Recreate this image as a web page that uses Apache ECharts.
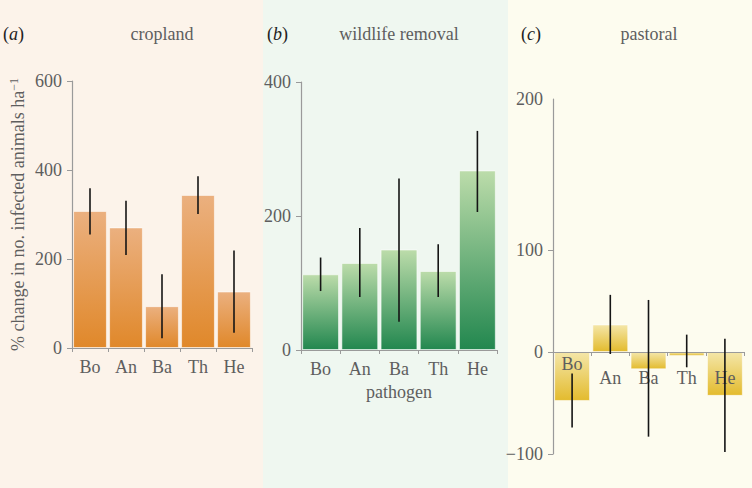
<!DOCTYPE html>
<html>
<head>
<meta charset="utf-8">
<script src="https://cdn.jsdelivr.net/npm/echarts@6/dist/echarts.min.js"></script>
<style>
  html, body { margin: 0; padding: 0; }
  #chart {
    width: 752px; height: 488px;
    background: linear-gradient(to right, #fcf3ea 0, #fcf3ea 263px, #eff7f0 263px, #eff7f0 508px, #fdfcef 508px, #fdfcef 752px);
  }
</style>
</head>
<body>
<div id="chart"></div>
<script>
// ---- data ----
const categories = ['Bo', 'An', 'Ba', 'Th', 'He'];
const panelTitles = ['cropland', 'wildlife removal', 'pastoral'];
const panelLetters = ['a', 'b', 'c'];

const croplandMean = [308, 271, 94, 344, 127];
const croplandLow  = [255, 209, 22, 301, 34];
const croplandHigh = [359, 331, 166, 386, 219];

const wildlifeMean = [113, 130, 150, 118, 268];
const wildlifeLow  = [88, 79, 42, 79, 206];
const wildlifeHigh = [138, 182, 256, 158, 327];

const pastoralMean = [-48, 27, -17, -4, -43];
const pastoralLow  = [-74, -2, -83, -15, -98];
const pastoralHigh = [-21, 56, 51, 17, 13];

const ticksA = [0, 200, 400, 600];
const ticksB = [0, 200, 400];
const ticksC = [-100, 0, 100];
const ticksCLabels = ['\u2212100', '0', '100', '200'];
const yAxisName = '% change in no. infected animals ha';
const xAxisName = 'pathogen';

// ---- styles ----
const FONT = '"Liberation Serif", "DejaVu Serif", serif';
const TXT = '#5e5e5e';
const AX = '#9a9a9a';

function grad(top, bottom) {
  return new echarts.graphic.LinearGradient(0, 0, 0, 1, [
    { offset: 0, color: top }, { offset: 1, color: bottom }
  ]);
}

function errData(low, high) {
  return low.map((l, i) => [i, l, high[i]]);
}

function errSeries(idx, low, high) {
  return {
    type: 'custom', xAxisIndex: idx, yAxisIndex: idx, z: 10,
    data: errData(low, high),
    renderItem: function (params, api) {
      const p1 = api.coord([api.value(0), api.value(1)]);
      const p2 = api.coord([api.value(0), api.value(2)]);
      return { type: 'line', shape: { x1: p1[0], y1: p1[1], x2: p2[0], y2: p2[1] },
               style: { stroke: '#151515', lineWidth: 1.6 } };
    }
  };
}

const grids = [
  { left: 72, top: 81, width: 180, height: 267 },
  { left: 301, top: 82, width: 196, height: 268 },
  { left: 553, top: 99, width: 191, height: 355 }
];
const yMinC = -100, yMaxC = 248;

function xAxisBase(idx) {
  return {
    type: 'category', gridIndex: idx, data: categories, z: 5,
    axisLine: { lineStyle: { color: AX, width: 1.2 } },
    axisTick: { show: true, length: 4, lineStyle: { color: AX } },
    axisLabel: { fontFamily: FONT, fontSize: 18, color: TXT, margin: 10, interval: 0 }
  };
}

const xAxes = [xAxisBase(0), xAxisBase(1), xAxisBase(2)];
xAxes[1].name = xAxisName;
xAxes[1].nameLocation = 'middle';
xAxes[1].nameGap = 26;
xAxes[1].nameTextStyle = { fontFamily: FONT, fontSize: 18, color: TXT };
// pastoral: put the category axis on the zero line (offset from the bottom of the grid)
xAxes[2].axisLine.onZero = false;
xAxes[2].offset = -(0 - yMinC) / (yMaxC - yMinC) * grids[2].height;
xAxes[2].axisLabel = {
  fontFamily: FONT, fontSize: 18, color: TXT, margin: 3, interval: 0,
  formatter: function (v, i) { return i === 0 ? '{hi|' + v + '}' : '{lo|' + v + '}'; },
  rich: {
    hi: { fontFamily: FONT, fontSize: 18, color: TXT },
    lo: { fontFamily: FONT, fontSize: 18, color: TXT, padding: [14, 0, 0, 0] }
  }
};

function yAxisBase(idx, min, max, interval) {
  return {
    type: 'value', gridIndex: idx, min: min, max: max, interval: interval,
    splitLine: { show: false },
    axisLine: { show: true, lineStyle: { color: AX, width: 1.2 } },
    axisTick: { show: true, length: 5, lineStyle: { color: AX } },
    axisLabel: { fontFamily: FONT, fontSize: 18, color: TXT, margin: 10 }
  };
}

const yAxes = [
  yAxisBase(0, ticksA[0], ticksA[ticksA.length - 1], 200),
  yAxisBase(1, ticksB[0], ticksB[ticksB.length - 1], 200),
  yAxisBase(2, yMinC, yMaxC, 100)
];
yAxes[0].name = yAxisName + '{sup|\u22121}';
yAxes[0].nameLocation = 'middle';
yAxes[0].nameGap = 44;
yAxes[0].nameTextStyle = {
  fontFamily: FONT, fontSize: 18, color: TXT,
  rich: { sup: { fontFamily: FONT, fontSize: 12, color: TXT, verticalAlign: 'top', padding: [0, 0, 8, 0] } }
};
// pastoral axis: tick marks at ticksC, labels at ticksC plus the top end of the axis
yAxes[2].axisTick.customValues = ticksC;
yAxes[2].axisLabel.customValues = ticksC.concat([yMaxC]);
yAxes[2].axisLabel.formatter = function (v) {
  const all = ticksC.concat([yMaxC]);
  const k = all.indexOf(v);
  return k >= 0 ? ticksCLabels[k] : '';
};
yAxes[2].axisLabel.showMaxLabel = true;

const titles = [];
const letterLeft = [3, 267, 521];
const titleCenter = [162, 399, 649];
for (let k = 0; k < 3; k++) {
  titles.push({
    text: '({i|' + panelLetters[k] + '})', left: letterLeft[k], top: 25, padding: 0,
    textStyle: { fontFamily: FONT, fontSize: 18, color: '#222', fontWeight: 'normal',
      rich: { i: { fontFamily: FONT, fontSize: 18, color: '#222', fontStyle: 'italic' } } }
  });
  titles.push({
    text: panelTitles[k], left: titleCenter[k], top: 25, padding: 0, textAlign: 'center',
    textStyle: { fontFamily: FONT, fontSize: 18, color: TXT, fontWeight: 'normal' }
  });
}

const barStyle = (top, bottom) => ({
  color: grad(top, bottom), borderColor: 'rgba(255,255,255,0.55)', borderWidth: 1
});

const option = {
  backgroundColor: 'transparent',
  animation: false,
  title: titles,
  grid: grids,
  xAxis: xAxes,
  yAxis: yAxes,
  series: [
    { type: 'bar', xAxisIndex: 0, yAxisIndex: 0, data: croplandMean, barCategoryGap: '6%',
      itemStyle: barStyle('#ebb07f', '#e0882a'), z: 2 },
    { type: 'bar', xAxisIndex: 1, yAxisIndex: 1, data: wildlifeMean, barCategoryGap: '6%',
      itemStyle: barStyle('#bcdcaa', '#22874f'), z: 2 },
    { type: 'bar', xAxisIndex: 2, yAxisIndex: 2, data: pastoralMean, barCategoryGap: '6%',
      itemStyle: barStyle('#f4e6a8', '#e3bb2e'), z: 2 },
    errSeries(0, croplandLow, croplandHigh),
    errSeries(1, wildlifeLow, wildlifeHigh),
    errSeries(2, pastoralLow, pastoralHigh)
  ]
};

const chart = echarts.init(document.getElementById('chart'), null, { renderer: 'svg' });
chart.setOption(option);
</script>
</body>
</html>
